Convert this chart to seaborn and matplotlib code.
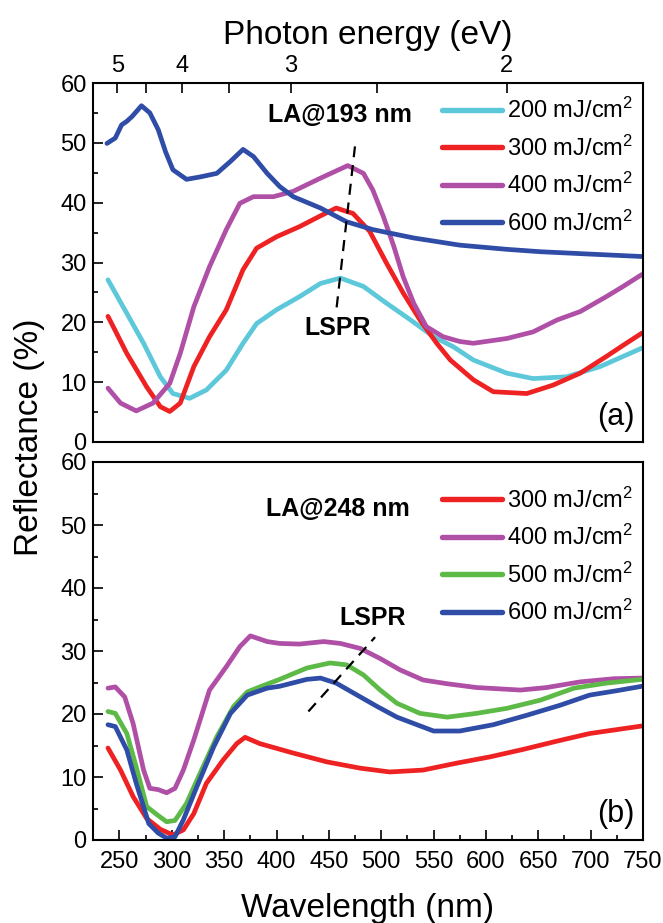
import numpy as np
import pandas as pd
import matplotlib
matplotlib.use("Agg")
import matplotlib.pyplot as plt
import seaborn as sns

# ---------------- data ----------------
# Panel (a): LA@193 nm
a200_wl = [239, 257, 273, 289, 301, 317, 333, 352, 368, 381, 400, 422, 442, 461, 483, 505, 528, 550, 569, 588, 620, 645, 677, 709, 749]
a200_r = [27.1, 21.5, 16.5, 10.9, 8.1, 7.3, 8.7, 12.0, 16.5, 19.8, 22.1, 24.3, 26.5, 27.4, 26.0, 23.2, 20.4, 17.6, 15.9, 13.7, 11.5, 10.6, 10.9, 12.6, 15.7]

a300_wl = [239, 257, 276, 289, 298, 308, 321, 336, 352, 368, 381, 400, 422, 442, 457, 473, 489, 505, 521, 537, 553, 566, 588, 607, 639, 664, 690, 715, 734, 749]
a300_r = [21.0, 14.8, 9.2, 5.9, 5.1, 6.5, 12.6, 17.6, 22.1, 28.8, 32.4, 34.3, 36.0, 37.8, 39.1, 38.2, 35.2, 29.9, 24.9, 20.4, 16.5, 13.7, 10.4, 8.4, 8.1, 9.5, 11.5, 14.3, 16.5, 18.2]

a400_wl = [239, 251, 266, 282, 298, 308, 321, 336, 352, 365, 378, 397, 416, 442, 468, 483, 492, 502, 512, 521, 531, 543, 559, 575, 588, 620, 645, 668, 690, 715, 731, 749]
a400_r = [9.0, 6.5, 5.2, 6.5, 9.8, 14.8, 22.6, 29.3, 35.5, 39.9, 41.0, 41.0, 41.9, 44.1, 46.2, 44.9, 42.1, 37.7, 32.7, 27.6, 23.2, 19.3, 17.6, 16.8, 16.5, 17.3, 18.4, 20.4, 21.8, 24.3, 26.0, 28.0]

a600_wl = [238, 246, 252, 257, 262, 271, 279, 287, 294, 301, 314, 327, 343, 356, 368, 378, 391, 403, 416, 442, 467, 492, 531, 575, 620, 652, 700, 749]
a600_r = [49.9, 50.8, 53.0, 53.6, 54.4, 56.2, 55.0, 52.2, 48.5, 45.5, 43.9, 44.3, 44.9, 46.9, 48.9, 47.7, 44.9, 42.7, 41.0, 39.1, 36.8, 35.5, 34.1, 32.9, 32.2, 31.8, 31.4, 31.0]

# Panel (b): LA@248 nm
b300_wl = [239, 251, 263, 276, 289, 301, 311, 321, 333, 349, 362, 370, 384, 416, 448, 480, 508, 540, 572, 604, 636, 668, 699, 749]
b300_r = [14.6, 11.1, 6.9, 3.4, 1.7, 0.8, 1.6, 4.2, 9.0, 12.7, 15.3, 16.3, 15.3, 13.8, 12.4, 11.4, 10.8, 11.1, 12.2, 13.2, 14.4, 15.7, 16.9, 18.1]

b400_wl = [239, 246, 255, 263, 273, 279, 287, 295, 303, 311, 321, 336, 352, 365, 375, 391, 403, 422, 445, 461, 480, 499, 518, 540, 563, 591, 633, 658, 690, 722, 749]
b400_r = [24.1, 24.3, 22.7, 18.5, 11.1, 8.2, 8.0, 7.5, 8.2, 11.1, 15.9, 23.8, 27.5, 30.7, 32.4, 31.5, 31.2, 31.1, 31.5, 31.2, 30.4, 28.8, 27.0, 25.4, 24.8, 24.2, 23.8, 24.2, 25.1, 25.6, 25.7]

b500_wl = [239, 246, 257, 266, 276, 286, 295, 303, 314, 327, 343, 359, 372, 384, 403, 429, 451, 467, 483, 499, 515, 537, 563, 591, 620, 652, 684, 715, 749]
b500_r = [20.4, 20.1, 16.9, 11.6, 5.3, 4.0, 2.9, 3.1, 5.8, 10.6, 16.4, 21.2, 23.5, 24.3, 25.5, 27.3, 28.1, 27.8, 26.2, 23.8, 21.7, 20.1, 19.5, 20.1, 20.9, 22.2, 24.1, 24.9, 25.5]

b600_wl = [239, 246, 257, 266, 278, 287, 295, 303, 311, 324, 340, 356, 372, 391, 403, 429, 442, 457, 477, 496, 515, 550, 575, 607, 639, 671, 699, 725, 749]
b600_r = [18.3, 18.0, 14.3, 9.0, 2.6, 1.1, 0.3, 0.5, 3.2, 8.5, 14.8, 20.1, 23.0, 24.1, 24.4, 25.5, 25.7, 24.9, 23.0, 21.2, 19.5, 17.3, 17.3, 18.3, 19.8, 21.4, 23.0, 23.7, 24.4]

labels_a = ["200 mJ/cm$^2$", "300 mJ/cm$^2$", "400 mJ/cm$^2$", "600 mJ/cm$^2$"]
labels_b = ["300 mJ/cm$^2$", "400 mJ/cm$^2$", "500 mJ/cm$^2$", "600 mJ/cm$^2$"]

# LSPR guide lines (wavelength, reflectance)
lspr_a_wl = [457.4, 474.9]
lspr_a_r = [22.5, 49.4]
lspr_b_wl = [430.4, 494.1]
lspr_b_r = [20.4, 32.2]

energy_major = [5, 4, 3, 2]
energy_minor = [4.5, 3.5, 2.5]

# ---------------- styling ----------------
C_CYAN = "#5CC8DA"
C_RED = "#EE2222"
C_PURPLE = "#B04FA6"
C_BLUE = "#2F4CA6"
C_GREEN = "#5DBA47"

sns.set_theme(style="white")
plt.rcParams["font.family"] = ["Liberation Sans", "DejaVu Sans"]
plt.rcParams["mathtext.default"] = "regular"
plt.rcParams["text.color"] = "black"
plt.rcParams["axes.labelcolor"] = "black"
plt.rcParams["xtick.color"] = "black"
plt.rcParams["ytick.color"] = "black"

fig = plt.figure(figsize=(6.63, 9.23), dpi=100)
L, R = 93 / 663, 643 / 663
axa = fig.add_axes([L, 1 - 442 / 923, R - L, (442 - 83) / 923])
axb = fig.add_axes([L, 1 - 840 / 923, R - L, (840 - 462) / 923])

LW = 3.4


def make_df(wls, rs, labels):
    frames = []
    for w, r, lab in zip(wls, rs, labels):
        frames.append(pd.DataFrame({"wl": w, "R": r, "series": lab}))
    return pd.concat(frames, ignore_index=True)


df_a = make_df([a200_wl, a300_wl, a400_wl, a600_wl],
               [a200_r, a300_r, a400_r, a600_r], labels_a)
df_b = make_df([b300_wl, b400_wl, b500_wl, b600_wl],
               [b300_r, b400_r, b500_r, b600_r], labels_b)

pal_a = dict(zip(labels_a, [C_CYAN, C_RED, C_PURPLE, C_BLUE]))
pal_b = dict(zip(labels_b, [C_RED, C_PURPLE, C_GREEN, C_BLUE]))

sns.lineplot(data=df_a, x="wl", y="R", hue="series", hue_order=labels_a,
             palette=pal_a, linewidth=LW, sort=False, estimator=None, ax=axa,
             solid_joinstyle="round", solid_capstyle="round")
sns.lineplot(data=df_b, x="wl", y="R", hue="series", hue_order=labels_b,
             palette=pal_b, linewidth=LW, sort=False, estimator=None, ax=axb,
             solid_joinstyle="round", solid_capstyle="round")

axa.plot(lspr_a_wl, lspr_a_r, color="black", lw=1.6, ls=(0, (5, 3.5)))
axb.plot(lspr_b_wl, lspr_b_r, color="black", lw=1.6, ls=(0, (5, 3.5)))

TICK_FS = 17
for ax, ly in ((axa, 0.985), (axb, 0.958)):
    ax.set_xlim(224.7, 750)
    ax.set_ylim(0, 60)
    ax.set_xlabel("")
    ax.set_ylabel("")
    ax.set_yticks(range(0, 61, 10))
    ax.set_yticks(range(5, 60, 10), minor=True)
    ax.set_xticks(range(250, 751, 50))
    ax.set_xticks(range(275, 750, 50), minor=True)
    for s in ax.spines.values():
        s.set_visible(True)
        s.set_color("black")
        s.set_linewidth(1.5)
    ax.tick_params(axis="y", which="both", direction="in", left=True, right=False,
                   labelsize=TICK_FS, pad=4.5, colors="black", width=1.2)
    ax.tick_params(axis="y", which="major", length=7)
    ax.tick_params(axis="y", which="minor", length=3.8)
    leg = ax.legend(loc="upper right", bbox_to_anchor=(1.0, ly), frameon=False,
                    fontsize=17, handlelength=2.55, handletextpad=0.22,
                    labelspacing=0.52, borderaxespad=0.0)
    for h in leg.get_lines():
        h.set_linewidth(LW + 0.5)
        h.set_solid_capstyle("round")

axa.tick_params(axis="x", which="both", bottom=False, top=False, labelbottom=False)
axb.tick_params(axis="x", which="both", direction="in", bottom=True, top=False,
                labelsize=TICK_FS, pad=8, colors="black", width=1.2)
axb.tick_params(axis="x", which="major", length=7)
axb.tick_params(axis="x", which="minor", length=3.8)


# top energy axis
def wl2e(x):
    x = np.asarray(x, dtype=float)
    with np.errstate(divide="ignore", invalid="ignore"):
        return 1240.0 / x


sec = axa.secondary_xaxis("top", functions=(wl2e, wl2e))
sec.set_xticks(energy_major)
sec.set_xticks(energy_minor, minor=True)
sec.set_xticklabels([str(e) for e in energy_major])
sec.tick_params(axis="x", which="both", direction="in", labelsize=TICK_FS, pad=4,
                colors="black", width=1.2)
sec.tick_params(axis="x", which="major", length=7)
sec.tick_params(axis="x", which="minor", length=7)
sec.spines["top"].set_visible(False)
sec.set_xlabel("Photon energy (eV)", fontsize=24, labelpad=8)

axb.set_xlabel("Wavelength (nm)", fontsize=24, labelpad=14)
fig.text(30 / 663, 1 - 437 / 923, "Reflectance (%)", rotation=90, fontsize=24,
         ha="center", va="center")

# annotations
axa.text(460.6, 54.7, "LA@193 nm", fontsize=18, fontweight="bold", ha="center", va="center")
axa.text(458.7, 19.1, "LSPR", fontsize=18, fontweight="bold", ha="center", va="center")
axa.text(0.985, 0.07, "(a)", transform=axa.transAxes, fontsize=22, ha="right", va="center")
axb.text(459.0, 52.5, "LA@248 nm", fontsize=18, fontweight="bold", ha="center", va="center")
axb.text(491.5, 35.3, "LSPR", fontsize=18, fontweight="bold", ha="center", va="center")
axb.text(0.985, 0.07, "(b)", transform=axb.transAxes, fontsize=22, ha="right", va="center")

fig.savefig("out.png", dpi=100)
